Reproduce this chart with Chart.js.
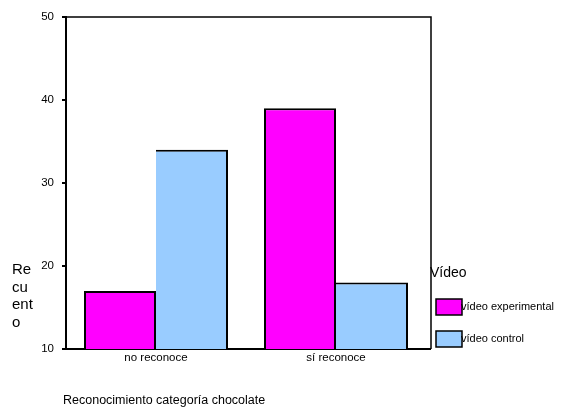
<!DOCTYPE html>
<html>
<head>
<meta charset="utf-8">
<script src="https://cdn.jsdelivr.net/npm/chart.js@4/dist/chart.umd.min.js"></script>
<style>
  html, body { margin: 0; padding: 0; background: #fff; }
  #wrap { width: 561px; height: 407px; position: relative; }
</style>
</head>
<body>
<div id="wrap"><canvas id="chart" width="561" height="407"></canvas></div>
<script>
const categories = ["no reconoce", "sí reconoce"];
const seriesNames = ["vídeo experimental", "vídeo control"];
const experimentalValues = [17, 39];
const controlValues = [34, 18];
const seriesColors = ["#ff00ff", "#99ccff"];
const yTicks = [10, 20, 30, 40, 50];
const yTitleLines = ["Re", "cu", "ent", "o"];
const xTitle = "Reconocimiento categoría chocolate";
const legendTitle = "Vídeo";

const FONT = "'Liberation Sans', Arial, sans-serif";
const FRAME_EXTRA = 5; // frame sits a little right of the last category

// frame (top/right), stacked y title, x title and the legend on the right
const decorations = {
  id: "decorations",
  beforeDatasetsDraw(chart) {
    const { ctx, chartArea } = chart;
    const right = chartArea.right + FRAME_EXTRA;
    ctx.save();
    ctx.strokeStyle = "#000";
    ctx.lineWidth = 1.5;
    ctx.beginPath();
    ctx.moveTo(chartArea.left, chartArea.top);
    ctx.lineTo(right, chartArea.top);
    ctx.lineTo(right, chartArea.bottom);
    ctx.stroke();
    ctx.lineWidth = 2;
    ctx.beginPath();
    ctx.moveTo(chartArea.right, chartArea.bottom);
    ctx.lineTo(right, chartArea.bottom);
    ctx.stroke();
    ctx.restore();
  },
  afterDraw(chart) {
    const { ctx } = chart;
    ctx.save();
    ctx.fillStyle = "#000";
    ctx.textBaseline = "middle";
    ctx.textAlign = "left";
    ctx.font = "15px " + FONT;
    yTitleLines.forEach((line, i) => ctx.fillText(line, 12, 270 + i * 17.5));

    ctx.font = "12.5px " + FONT;
    ctx.fillText(xTitle, 63, 401);

    ctx.font = "14px " + FONT;
    ctx.fillText(legendTitle, 430, 273);

    ctx.font = "11px " + FONT;
    seriesNames.forEach((name, i) => {
      const y = 299 + i * 32;
      ctx.fillStyle = seriesColors[i];
      ctx.fillRect(436, y, 26, 16);
      ctx.strokeStyle = "#000";
      ctx.lineWidth = 1.5;
      ctx.strokeRect(436, y, 26, 16);
      ctx.fillStyle = "#000";
      ctx.fillText(name, 461, y + 8);
    });
    ctx.restore();
  }
};

new Chart(document.getElementById("chart"), {
  type: "bar",
  data: {
    labels: categories,
    datasets: [
      { label: seriesNames[0], data: experimentalValues, backgroundColor: seriesColors[0], borderColor: "#000", borderWidth: 2, borderSkipped: false },
      { label: seriesNames[1], data: controlValues, backgroundColor: seriesColors[1], borderColor: "#000", borderWidth: 2, borderSkipped: "left" }
    ]
  },
  options: {
    responsive: false,
    animation: false,
    devicePixelRatio: 1,
    layout: { padding: { left: 0, top: 17, right: 135, bottom: 38 } },
    plugins: { legend: { display: false }, tooltip: { enabled: false } },
    datasets: { bar: { barPercentage: 1, categoryPercentage: 0.8 } },
    scales: {
      x: {
        afterFit(scale) { scale.height = 20; },
        grid: { display: false, drawTicks: false },
        border: { display: true, color: "#000", width: 2 },
        ticks: { color: "#000", font: { family: FONT, size: 11.5 }, padding: 2 }
      },
      y: {
        min: 10,
        max: 50,
        afterFit(scale) { scale.width = 66; },
        afterBuildTicks(scale) { scale.ticks = yTicks.map((v) => ({ value: v })); },
        grid: { drawOnChartArea: false, drawTicks: true, tickLength: 4, color: "#000", lineWidth: 2 },
        border: { display: true, color: "#000", width: 2 },
        ticks: { color: "#000", font: { family: FONT, size: 11.5 }, padding: 8 }
      }
    }
  },
  plugins: [decorations]
});
</script>
</body>
</html>
